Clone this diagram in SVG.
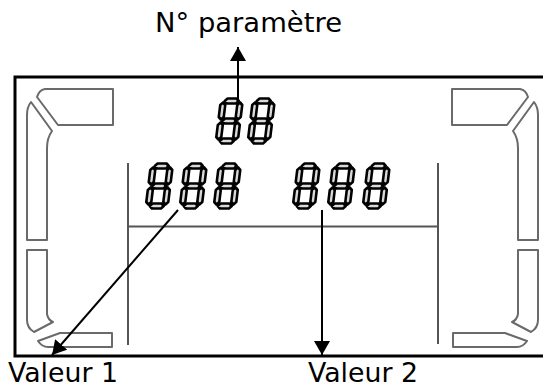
<svg xmlns="http://www.w3.org/2000/svg" width="543" height="389" viewBox="0 0 543 389">
<style>
.frame{fill:none;stroke:#000;stroke-width:3}
.piece{fill:#fff;stroke:#6a6a6a;stroke-width:2;stroke-linejoin:round}
.rule{fill:none;stroke:#555;stroke-width:2}
.seg{fill:#d9d9d9;stroke:#000;stroke-width:2.6;stroke-linejoin:round}
.conn{fill:none;stroke:#000;stroke-width:2}
.lbl{font-family:"DejaVu Sans","Liberation Sans",sans-serif;font-size:27px;fill:#000}
</style>
<defs>
<marker id="ah" viewBox="-14 -8 14 16" refX="0" refY="0" markerWidth="14" markerHeight="16" markerUnits="userSpaceOnUse" orient="auto">
<path d="M0,0 L-14,-8 L-14,8 Z" fill="#000"/>
</marker>
<g id="digit">
<polygon class="seg" points="4.5,3 7,0.5 16,0.5 18.5,3 16,5.5 7,5.5"/>
<polygon class="seg" points="4.5,23 7,20.5 16,20.5 18.5,23 16,25.5 7,25.5"/>
<polygon class="seg" points="4.5,43 7,40.5 16,40.5 18.5,43 16,45.5 7,45.5"/>
<polygon class="seg" points="3,4.5 5.5,7 5.5,19 3,21.5 0.5,19 0.5,7"/>
<polygon class="seg" points="20,4.5 22.5,7 22.5,19 20,21.5 17.5,19 17.5,7"/>
<polygon class="seg" points="3,24.5 5.5,27 5.5,39 3,41.5 0.5,39 0.5,27"/>
<polygon class="seg" points="20,24.5 22.5,27 22.5,39 20,41.5 17.5,39 17.5,27"/>
</g>
<g id="side">
<path class="piece" d="M45,89 H113 V125 H58 L37,97 Q39,90 45,89 Z"/>
<path class="piece" d="M31,102 L52,131 Q47,138 47,148 V240 H27 V115 Q27,107 31,102 Z"/>
<path class="piece" d="M27,250 H47 V314 Q48,320 53,322 L34,332 Q27,328 27,320 Z"/>
<path class="piece" d="M112,333 H60 L38,341 Q42,347 48,347 H112 Z"/>
</g>
</defs>
<rect x="0" y="0" width="543" height="389" fill="#fff"/>
<g id="display">
<path class="frame" d="M560,77 H15 V356 H560"/>
<use href="#side"/>
<use href="#side" transform="matrix(-1,0,0,1,565,0)"/>
<path class="rule" d="M128,163 V345 M438,163 V344 M128,226.5 H438"/>
</g>
<g id="param-digits">
<use href="#digit" transform="translate(220.6,98) skewX(-7)"/>
<use href="#digit" transform="translate(252.6,98) skewX(-7)"/>
</g>
<g id="value1-digits">
<use href="#digit" transform="translate(150.6,163) skewX(-7)"/>
<use href="#digit" transform="translate(184.6,163) skewX(-7)"/>
<use href="#digit" transform="translate(218.6,163) skewX(-7)"/>
</g>
<g id="value2-digits">
<use href="#digit" transform="translate(297.6,163) skewX(-7)"/>
<use href="#digit" transform="translate(332.6,163) skewX(-7)"/>
<use href="#digit" transform="translate(367.6,163) skewX(-7)"/>
</g>
<g id="connectors">
<line class="conn" x1="238" y1="102" x2="238" y2="47" marker-end="url(#ah)"/>
<line class="conn" x1="178" y1="210" x2="52" y2="355" marker-end="url(#ah)"/>
<line class="conn" x1="322" y1="210" x2="322" y2="355" marker-end="url(#ah)"/>
</g>
<g id="label-param"><text class="lbl" x="155" y="32" textLength="187" lengthAdjust="spacingAndGlyphs">N° paramètre</text></g>
<g id="label-v1"><text class="lbl" x="8" y="382" textLength="110" lengthAdjust="spacingAndGlyphs">Valeur 1</text></g>
<g id="label-v2"><text class="lbl" x="308" y="382" textLength="110" lengthAdjust="spacingAndGlyphs">Valeur 2</text></g>
</svg>
